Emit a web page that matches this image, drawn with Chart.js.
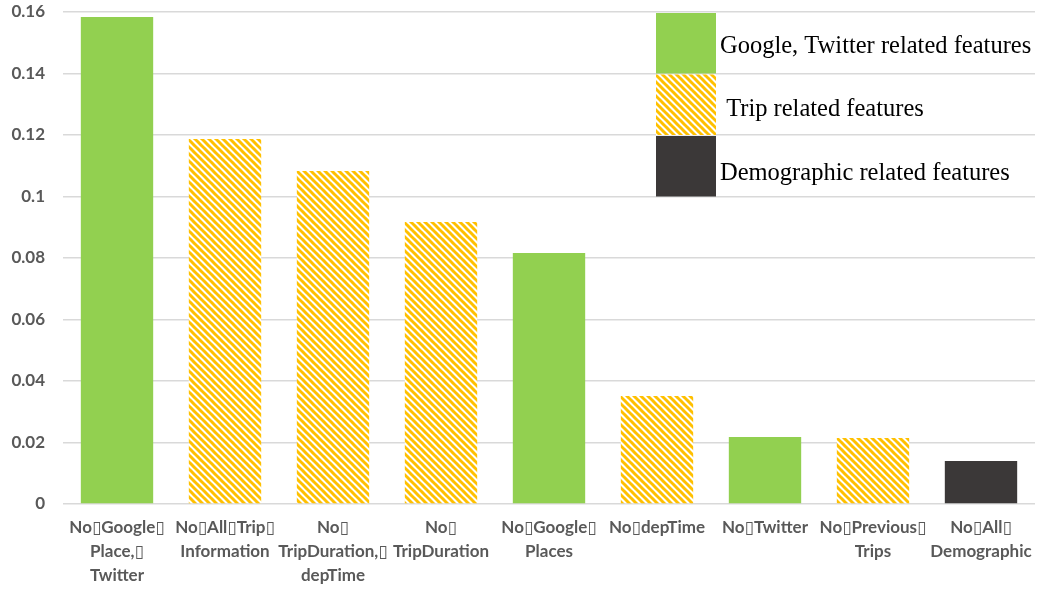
<!DOCTYPE html>
<html>
<head>
<meta charset="utf-8">
<script src="https://cdn.jsdelivr.net/npm/chart.js@4.4.0/dist/chart.umd.min.js"></script>
<style>
  html, body { margin: 0; padding: 0; background: #fff; }
  #wrap { width: 1039px; height: 589px; }
</style>
</head>
<body>
<div id="wrap"><canvas id="c"></canvas></div>
<script>
// data
const B = '\u25AF';
const categories = [
  ['No' + B + 'Google' + B, 'Place,' + B, 'Twitter'],
  ['No' + B + 'All' + B + 'Trip' + B, 'Information'],
  ['No' + B, 'TripDuration,' + B, 'depTime'],
  ['No' + B, 'TripDuration'],
  ['No' + B + 'Google' + B, 'Places'],
  ['No' + B + 'depTime'],
  ['No' + B + 'Twitter'],
  ['No' + B + 'Previous' + B, 'Trips'],
  ['No' + B + 'All' + B, 'Demographic']
];
const googleTwitter = [0.1584, null, null, null, 0.0816, null, 0.0218, null, null];
const tripRelated   = [null, 0.1187, 0.1083, 0.0917, null, 0.0351, null, 0.0215, null];
const demographic   = [null, null, null, null, null, null, null, null, 0.0140];
const yTicks = [0, 0.02, 0.04, 0.06, 0.08, 0.1, 0.12, 0.14, 0.16];

// hatch pattern
function hatch() {
  const p = 7;
  const cv = document.createElement('canvas');
  cv.width = p; cv.height = p;
  const g = cv.getContext('2d');
  g.fillStyle = '#fff';
  g.fillRect(0, 0, p, p);
  g.strokeStyle = '#FFC000';
  g.lineWidth = 3;
  for (const k of [-p, 0, p]) {
    g.beginPath();
    g.moveTo(k - 1, -1);
    g.lineTo(k + p + 1, p + 1);
    g.stroke();
  }
  return g.createPattern(cv, 'repeat');
}
const stripes = hatch();

// legend drawn over the plot
const boxLegend = {
  id: 'boxLegend',
  afterDatasetsDraw(chart) {
    const ctx = chart.ctx;
    const y = chart.scales.y;
    const rows = [
      {fill: '#92D050', text: 'Google, Twitter related features', top: 0.16, dy: 3},
      {fill: stripes, text: ' Trip related features', top: 0.14, dy: 5},
      {fill: '#3B3838', text: 'Demographic related features', top: 0.12, dy: 7}
    ];
    ctx.save();
    ctx.font = '24.5px "Liberation Serif", "DejaVu Serif", serif';
    ctx.textBaseline = 'middle';
    rows.forEach(r => {
      const y0 = y.getPixelForValue(r.top) + 1;
      const y1 = y.getPixelForValue(r.top - 0.02);
      ctx.fillStyle = r.fill;
      ctx.fillRect(656, y0, 60, y1 - y0);
      ctx.fillStyle = '#000';
      ctx.fillText(r.text, 720, (y0 + y1) / 2 + r.dy);
    });
    ctx.restore();
  }
};

const tickFont = {family: 'Lato, "DejaVu Sans", sans-serif', size: 17, weight: 'bold', lineHeight: 1.42};

new Chart(document.getElementById('c'), {
  type: 'bar',
  data: {
    labels: categories,
    datasets: [
      {label: 'Google, Twitter related features', data: googleTwitter, backgroundColor: '#92D050'},
      {label: 'Trip related features', data: tripRelated, backgroundColor: stripes},
      {label: 'Demographic related features', data: demographic, backgroundColor: '#3B3838'}
    ]
  },
  options: {
    responsive: true,
    maintainAspectRatio: false,
    animation: false,
    layout: {padding: {top: 12, right: 4, left: 0, bottom: 0}},
    plugins: {legend: {display: false}, tooltip: {enabled: false}},
    datasets: {bar: {categoryPercentage: 1, barPercentage: 0.67}},
    scales: {
      x: {
        stacked: true,
        grid: {display: false},
        border: {display: false},
        ticks: {
          color: '#595959', font: tickFont, autoSkip: false, maxRotation: 0,
          padding: 3
        },
        afterFit: s => { s.height = 85; }
      },
      y: {
        stacked: true,
        min: 0, max: 0.16,
        afterBuildTicks: s => { s.ticks = yTicks.map(v => ({value: v})); },
        grid: {color: '#D9D9D9', lineWidth: 1.5, drawTicks: false},
        border: {display: false},
        ticks: {
          color: '#595959', font: tickFont, padding: 18,
          callback: v => String(+v.toFixed(2))
        },
        afterFit: s => { s.width = 63; s.paddingTop = 0; s.paddingBottom = 0; }
      }
    }
  },
  plugins: [boxLegend]
});
</script>
</body>
</html>
